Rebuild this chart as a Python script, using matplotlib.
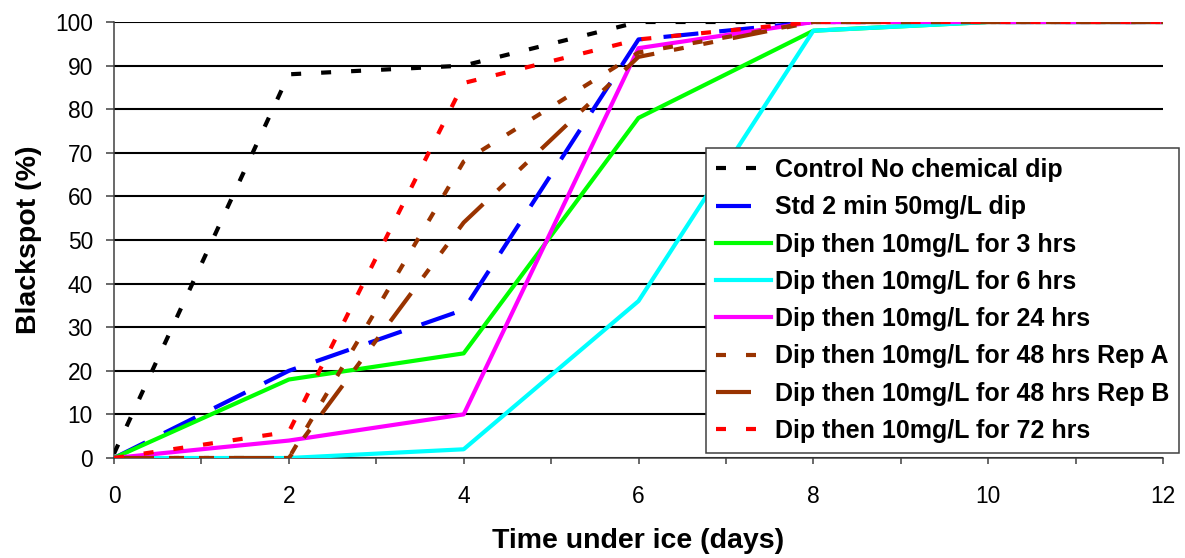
"""
Blackspot vs time under ice
"""
import matplotlib
matplotlib.use('Agg')
import matplotlib.pyplot as plt
from matplotlib.ticker import MultipleLocator

plt.rcParams['font.family'] = ['Liberation Sans', 'DejaVu Sans']
plt.rcParams['lines.scale_dashes'] = False

days = [0, 2, 4, 6, 8, 10, 12]

control = [1, 88, 90, 100, 100, 100, 100]
std_dip = [0, 20, 34, 96, 100, 100, 100]
dip_3h = [0, 18, 24, 78, 98, 100, 100]
dip_6h = [0, 0, 2, 36, 98, 100, 100]
dip_24h = [0, 4, 10, 94, 100, 100, 100]
dip_48h_a = [0, 0, 68, 93, 100, 100, 100]
dip_48h_b = [0, 0, 54, 92, 100, 100, 100]
dip_72h = [0, 6, 86, 96, 100, 100, 100]

labels = ['Control No chemical dip', 'Std 2 min 50mg/L dip', 'Dip then 10mg/L for 3 hrs',
          'Dip then 10mg/L for 6 hrs', 'Dip then 10mg/L for 24 hrs',
          'Dip then 10mg/L for 48 hrs Rep A', 'Dip then 10mg/L for 48 hrs Rep B',
          'Dip then 10mg/L for 72 hrs']

# dash patterns in points (px * 0.72)
short_dash = (0, (7.2, 14.4))
long_dash = (0, (25.2, 15.1))
long_dash_dot_dot = (0, (25.2, 14.4, 7.2, 14.4, 7.2, 14.4))

brown = '#993300'
series = [
    (control, 'black', short_dash),
    (std_dip, '#0000FF', long_dash),
    (dip_3h, '#00FF00', '-'),
    (dip_6h, '#00FFFF', '-'),
    (dip_24h, '#FF00FF', '-'),
    (dip_48h_a, brown, short_dash),
    (dip_48h_b, brown, long_dash_dot_dot),
    (dip_72h, '#FF0000', short_dash),
]

W, H = 1185, 558
fig = plt.figure(figsize=(W / 100, H / 100), dpi=100)
ax = fig.add_axes([114 / W, 1 - 458 / H, (1163 - 114) / W, (458 - 22) / H])

for (vals, col, ls), lab in zip(series, labels):
    ax.plot(days, vals, color=col, linestyle=ls, linewidth=3.0, label=lab, zorder=3)

ax.set_xlim(0, 12)
ax.set_ylim(0, 100)
ax.xaxis.set_major_locator(MultipleLocator(2))
ax.xaxis.set_minor_locator(MultipleLocator(1))
ax.yaxis.set_major_locator(MultipleLocator(10))
ax.grid(axis='y', color='black', linewidth=1.5, zorder=1)
ax.set_axisbelow(True)

for side in ['top', 'right']:
    ax.spines[side].set_visible(False)
for side in ['left', 'bottom']:
    ax.spines[side].set_color('#404040')
    ax.spines[side].set_linewidth(1.1)
ax.tick_params(axis='both', which='both', direction='out', color='#404040', width=1.1, labelsize=16.4)
ax.tick_params(axis='x', which='both', length=4.3, pad=15)
ax.tick_params(axis='y', length=5.8, pad=9.4)

ax.set_xlabel('Time under ice (days)', fontsize=20.5, fontweight='bold')
ax.set_ylabel('Blackspot (%)', fontsize=20.5, fontweight='bold')
ax.xaxis.set_label_coords(0.5, -(528 - 458) / 436)
ax.yaxis.set_label_coords((42 - 114) / 1049, 0.5)

leg = ax.legend(loc='upper left', bbox_to_anchor=(706 / W, 1 - 148 / H),
                bbox_transform=fig.transFigure, frameon=True,
                fancybox=False, edgecolor='#404040', framealpha=1, borderaxespad=0,
                handlelength=2.2, handletextpad=0.16, labelspacing=0.53, borderpad=0.4,
                prop={'weight': 'bold', 'size': 18})
leg.get_frame().set_linewidth(1.1)
leg.set_zorder(5)

fig.savefig('out.png', dpi=100, facecolor='white')
